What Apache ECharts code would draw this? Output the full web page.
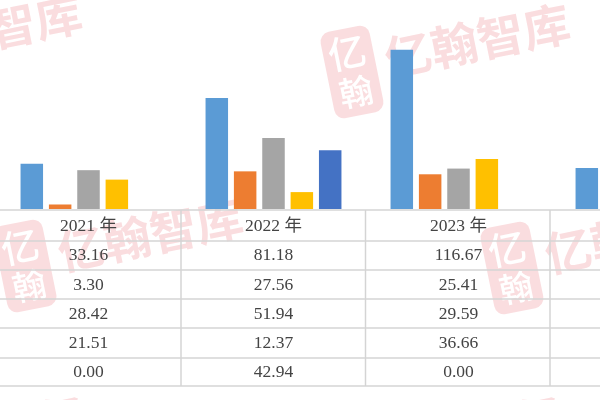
<!DOCTYPE html>
<html><head><meta charset="utf-8">
<style>html,body{margin:0;padding:0;background:#fff}#c{width:600px;height:400px}</style>
<script src="https://cdn.jsdelivr.net/npm/echarts@6/dist/echarts.min.js"></script>
</head><body><div id="c"></div>
<script>
const categories = ['2021 年','2022 年','2023 年',''];
const seriesA = [33.16,81.18,116.67,30.0];
const seriesB = [3.30,27.56,25.41,null];
const seriesC = [28.42,51.94,29.59,null];
const seriesD = [21.51,12.37,36.66,null];
const seriesE = [0.00,42.94,0.00,null];
const seriesColors = ['#5b9bd5','#ed7d31','#a5a5a5','#ffc000','#4472c4'];
const allSeries = [seriesA,seriesB,seriesC,seriesD,seriesE];
const watermarks = [[-136,62],[25,266],[352,72],[512,268]];
const edgeMarks = [[5,436],[482,436]];
const rowLines = [210,241,270,299,328,358,386];
const colLines = [181,365.5,550];

const chart = echarts.init(document.getElementById('c'),null,{renderer:'canvas'});
const lineColor = '#d4d4d4';
const tableLines = [];
rowLines.forEach(y=>tableLines.push({type:'line',z:1,shape:{x1:0,y1:y,x2:600,y2:y},style:{stroke:lineColor,lineWidth:1.5}}));
colLines.forEach(x=>tableLines.push({type:'line',z:1,shape:{x1:x,y1:210,x2:x,y2:386},style:{stroke:lineColor,lineWidth:1.5}}));

const pink='rgba(228,84,96,0.2)';
const wmFont='600 47px "Noto Sans CJK SC"';
const wm = watermarks.map(([x,y])=>({
  type:'group',x,y,rotation:0.2,z:50,silent:true,
  children:[
    {type:'rect',shape:{x:-25,y:-44,width:50,height:88,r:10},style:{fill:pink}},
    {type:'text',style:{x:-1,y:-20,text:'亿',fill:'#fff',font:'500 38px "Noto Sans CJK SC"',align:'center',verticalAlign:'middle'}},
    {type:'text',style:{x:0,y:20,text:'翰',fill:'#fff',font:'500 34px "Noto Sans CJK SC"',align:'center',verticalAlign:'middle'}},
    {type:'text',style:{x:35,y:-6,text:'亿翰智库',fill:pink,font:wmFont,align:'left',verticalAlign:'middle'}}
  ]
})).concat(edgeMarks.map(([x,y])=>({
  type:'group',x,y,rotation:0.2,z:50,silent:true,
  children:[{type:'text',style:{x:35,y:-6,text:'亿',fill:pink,font:wmFont,align:'left',verticalAlign:'middle'}}]
})));

chart.setOption({
  animation:false,
  backgroundColor:'#fff',
  grid:{left:-4,width:740,top:0,height:209,containLabel:false,outerBoundsMode:'none'},
  xAxis:{type:'category',data:categories,
    axisLine:{show:false},axisTick:{show:false},
    axisLabel:{interval:0,margin:3,verticalAlign:'top',color:'#444',
      fontFamily:'"Liberation Serif","Noto Sans CJK SC"',fontSize:17.5,lineHeight:29.2,
      formatter:(v,i)=>[v].concat(allSeries.map(s=>s[i]==null||i===3?'':s[i].toFixed(2))).join('\n')}},
  yAxis:{type:'value',min:0,max:153,show:false,splitLine:{show:false}},
  series:allSeries.map((d,i)=>({type:'bar',data:d,barWidth:22.5,barGap:'26%',
    itemStyle:{color:seriesColors[i]}})),
  graphic:tableLines.concat(wm)
});
</script></body></html>
